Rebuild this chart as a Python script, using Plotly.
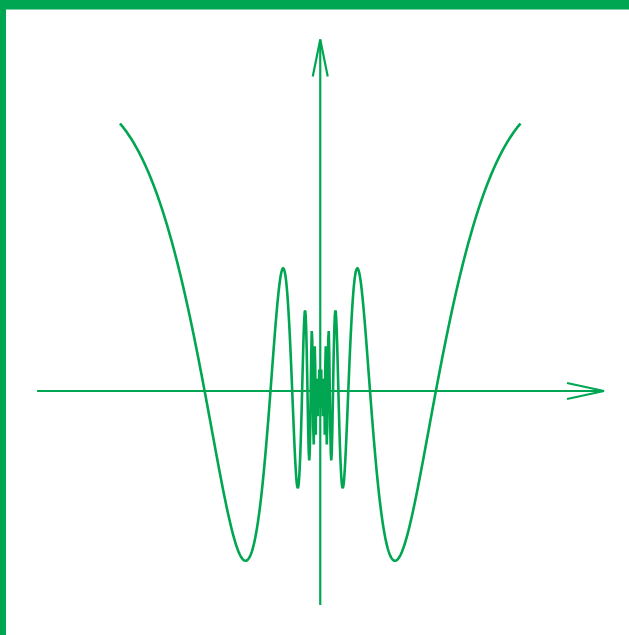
import numpy as np
import plotly.graph_objects as go

# ---- canvas ----
W, H = 629, 635
GREEN = "#00a651"

# ---- curve parameters ----
x_min, x_max = -1.0, 1.0          # domain of the curve (data units)
n_samples = 801                    # sampling of the drawn polyline
freq = 3.937                       # phase coefficient k in sin(k*|x|^-p + a)
freq_power = 0.55                  # p
phase = 0.958                      # phase offset a
env_power = 0.47                   # envelope |x|^q
amp = 1.0                          # amplitude (y unit)

# ---- pixel geometry of the data units (from picture) ----
x0_px, x_unit_px = 320.25, 200.25  # pixel x of x=0, pixels per x unit
y0_px, y_unit_px = 391.0, 272.0    # pixel y of y=0, pixels per y unit

# axis extents (data units) and arrowhead sizes (pixels)
xaxis_from, xaxis_to = -1.414, 1.417
yaxis_from, yaxis_to = -0.787, 1.292
arrow_len_px, arrow_half_px = 37.0, 8.0

xs = np.linspace(x_min, x_max, n_samples)
ax = np.abs(xs)
with np.errstate(divide="ignore", invalid="ignore"):
    ys = np.where(ax > 0,
                  -amp * ax ** env_power * np.sin(freq * ax ** (-freq_power) + phase),
                  0.0)

fig = go.Figure()

# function curve
fig.add_trace(go.Scatter(x=xs, y=ys, mode="lines",
                         line=dict(color=GREEN, width=2.6, simplify=False),
                         hoverinfo="skip", showlegend=False))

# coordinate axes
fig.add_trace(go.Scatter(x=[xaxis_from, xaxis_to], y=[0, 0], mode="lines",
                         line=dict(color=GREEN, width=2.2),
                         hoverinfo="skip", showlegend=False))
fig.add_trace(go.Scatter(x=[0, 0], y=[yaxis_from, yaxis_to], mode="lines",
                         line=dict(color=GREEN, width=2.2),
                         hoverinfo="skip", showlegend=False))

# arrowheads (open chevrons)
ax_l = arrow_len_px / x_unit_px
ax_w = arrow_half_px / y_unit_px
fig.add_trace(go.Scatter(x=[xaxis_to - ax_l, xaxis_to, xaxis_to - ax_l],
                         y=[ax_w, 0, -ax_w], mode="lines",
                         line=dict(color=GREEN, width=2.2),
                         hoverinfo="skip", showlegend=False))
ay_l = arrow_len_px / y_unit_px
ay_w = (arrow_half_px - 0.5) / x_unit_px
fig.add_trace(go.Scatter(x=[-ay_w, 0, ay_w],
                         y=[yaxis_to - ay_l, yaxis_to, yaxis_to - ay_l], mode="lines",
                         line=dict(color=GREEN, width=2.2),
                         hoverinfo="skip", showlegend=False))

x_range = [(0 - x0_px) / x_unit_px, (W - x0_px) / x_unit_px]
y_range = [(y0_px - H) / y_unit_px, y0_px / y_unit_px]

fig.update_layout(
    width=W, height=H, autosize=False,
    margin=dict(l=0, r=0, t=0, b=0),
    paper_bgcolor="white", plot_bgcolor="white",
    xaxis=dict(range=x_range, visible=False, fixedrange=True),
    yaxis=dict(range=y_range, visible=False, fixedrange=True),
    shapes=[
        dict(type="rect", xref="paper", yref="paper",
             x0=0, x1=1, y0=1 - 9.5 / H, y1=1,
             fillcolor=GREEN, line=dict(width=0), layer="above"),
        dict(type="rect", xref="paper", yref="paper",
             x0=0, x1=6 / W, y0=0, y1=1,
             fillcolor=GREEN, line=dict(width=0), layer="above"),
    ],
)

fig.write_html("out.html", config={"displayModeBar": False},
               post_script="document.body.style.margin='0';document.body.style.overflow='hidden';")
